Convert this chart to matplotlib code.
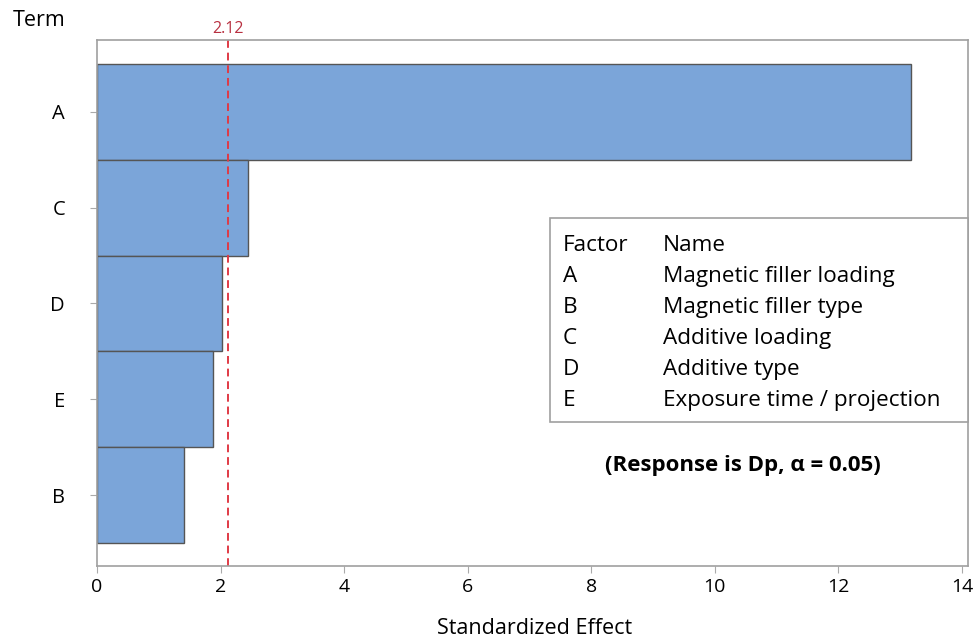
import matplotlib.pyplot as plt
import numpy as np

plt.rcParams['font.family'] = ['Open Sans', 'DejaVu Sans']

terms = ['A', 'C', 'D', 'E', 'B']
effects = [13.18, 2.44, 2.03, 1.88, 1.41]
ref_value = 2.12
ref_label = '2.12'

factors = ['A', 'B', 'C', 'D', 'E']
names = ['Magnetic filler loading', 'Magnetic filler type', 'Additive loading',
         'Additive type', 'Exposure time / projection']

fig = plt.figure(figsize=(9.73, 6.4), dpi=100)
ax = fig.add_axes([97/973, 74/640, 871/973, 526/640])

ind = np.arange(len(terms))
ax.barh(ind, effects, height=1.0, color='#7BA5D9', edgecolor='#555555', linewidth=1.0)
ax.axvline(ref_value, color='#E03A45', linestyle=(0, (4, 2.5)), linewidth=1.4)
ax.text(ref_value, -0.78, ref_label, color='#B83040', fontsize=11.5,
        ha='center', va='bottom')

ax.set_ylim(len(terms) - 0.26, -0.75)
ax.set_xlim(0, 14.1)
ax.set_yticks(ind)
ax.set_yticklabels(terms, fontsize=14.5)
ax.set_xticks(np.arange(0, 15, 2))
ax.tick_params(axis='x', labelsize=14, length=5, color='#aaaaaa', pad=4)
ax.tick_params(axis='y', length=5, color='#aaaaaa', pad=18)
for s in ax.spines.values():
    s.set_color('#a0a0a0')
    s.set_linewidth(1.2)

fig.text(39/973, 1 - 20/640, 'Term', fontsize=15.5, ha='center', va='center')
fig.text(535/973, 1 - 629/640, 'Standardized Effect', fontsize=15.5,
         ha='center', va='center')

# factor table box
bx0, by0, bx1, by1 = 550/973, 1 - 422/640, 968/973, 1 - 218/640
rect = plt.Rectangle((bx0, by0), bx1 - bx0, by1 - by0, transform=fig.transFigure,
                     facecolor='white', edgecolor='#a0a0a0', linewidth=1.2)
fig.patches.append(rect)
rows = [('Factor', 'Name')] + list(zip(factors, names))
for i, (f, n) in enumerate(rows):
    y = 1 - (251 + i * 31) / 640
    fig.text(563/973, y, f, fontsize=16.2, va='baseline', ha='left')
    fig.text(663/973, y, n, fontsize=16.2, va='baseline', ha='left')

fig.text(743/973, 1 - 466/640, '(Response is Dp, α = 0.05)', fontsize=16,
         fontweight='bold', ha='center', va='center')

plt.savefig('out.png', dpi=100)
